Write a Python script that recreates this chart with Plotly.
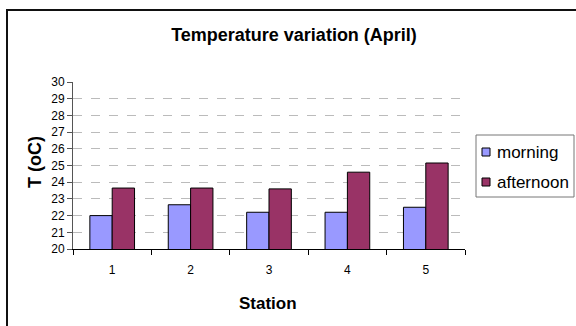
import plotly.graph_objects as go

# Station temperatures in April
stations = ["1", "2", "3", "4", "5"]
morning = [22.0, 22.65, 22.2, 22.2, 22.5]
afternoon = [23.65, 23.65, 23.6, 24.6, 25.15]
y_ticks = list(range(20, 31))
series_names = ["morning", "afternoon"]
series_colors = ["#9999FF", "#993366"]

FONT = "Liberation Sans, Arial, sans-serif"

fig = go.Figure()
for name, vals, col in zip(series_names, [morning, afternoon], series_colors):
    fig.add_trace(go.Bar(
        x=stations, y=vals, name=name,
        marker=dict(color=col, line=dict(color="#000000", width=1)),
    ))

W, H = 576, 326
L, R, T, B = 73, 111, 82, 77
pw, ph = W - L - R, H - T - B


def px_x(x):
    return (x - L) / pw


def px_y(y):
    return (H - B - y) / ph


shapes = [
    # chart area frame (top and left edges visible)
    dict(type="rect", xref="paper", yref="paper",
         x0=px_x(7), x1=px_x(W + 20), y0=px_y(10), y1=px_y(H + 20),
         line=dict(color="#111111", width=2), layer="below"),
    # legend box
    dict(type="rect", xref="paper", yref="paper",
         x0=px_x(476), x1=px_x(574), y0=px_y(135), y1=px_y(197),
         line=dict(color="#777777", width=1), fillcolor="white"),
]
annotations = [
    dict(text="<b>T (oC)</b>", textangle=-90, showarrow=False,
         xref="paper", yref="paper", x=px_x(35), y=px_y(162),
         xanchor="center", yanchor="middle",
         font=dict(size=18, family=FONT)),
    dict(text="<b>Station</b>", showarrow=False,
         xref="paper", yref="paper", x=px_x(268), y=px_y(303),
         xanchor="center", yanchor="middle",
         font=dict(size=17, family=FONT)),
]
# legend entries: swatch + label
for i, (name, col) in enumerate(zip(series_names, series_colors)):
    cy = 152 + i * 30
    shapes.append(dict(
        type="rect", xref="paper", yref="paper",
        x0=px_x(482), x1=px_x(490), y0=px_y(cy - 4), y1=px_y(cy + 4),
        line=dict(color="#000000", width=1), fillcolor=col,
    ))
    annotations.append(dict(
        text=name, showarrow=False, xref="paper", yref="paper",
        x=px_x(495), y=px_y(cy), xanchor="left", yanchor="middle",
        font=dict(size=17, family=FONT),
    ))

fig.update_layout(
    width=W, height=H,
    margin=dict(l=L, r=R, t=T, b=B, autoexpand=False),
    paper_bgcolor="white", plot_bgcolor="white",
    barmode="group", bargap=0.43, bargroupgap=0,
    showlegend=False,
    font=dict(family=FONT, color="black"),
    title=dict(
        text="<b>Temperature variation (April)</b>",
        font=dict(size=18, family=FONT, color="black"),
        x=294 / W, xanchor="center", xref="container",
        y=1 - 35 / H, yanchor="middle", yref="container",
    ),
    xaxis=dict(
        type="category",
        showline=True, linecolor="black", linewidth=1,
        ticks="outside", tickson="boundaries", ticklen=5,
        tickcolor="black", tickfont=dict(size=12, family=FONT),
        ticklabelstandoff=10,
        showgrid=False,
    ),
    yaxis=dict(
        range=[20, 30], tickvals=y_ticks,
        showline=True, linecolor="#555555", linewidth=1,
        ticks="outside", ticklen=5, tickcolor="#555555",
        tickfont=dict(size=12, family=FONT),
        showgrid=True, gridcolor="#BBBBBB", griddash="dash", gridwidth=1,
        zeroline=False,
    ),
    annotations=annotations,
    shapes=shapes,
)

fig.write_html("out.html")
